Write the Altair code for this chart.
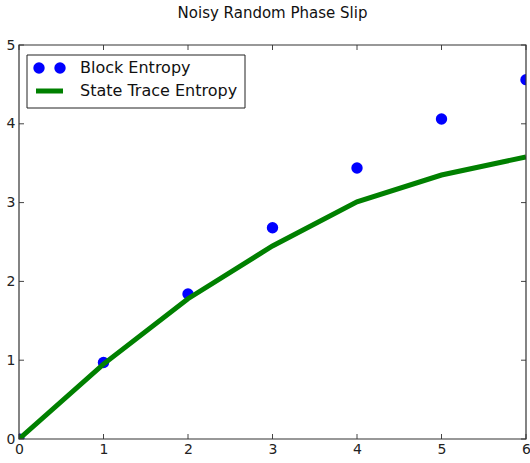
import altair as alt
import pandas as pd

steps = [0, 1, 2, 3, 4, 5, 6]
block_entropy = [0.0, 0.97, 1.84, 2.68, 3.44, 4.06, 4.56]
state_trace_entropy = [0.0, 0.95, 1.78, 2.45, 3.01, 3.35, 3.58]
x_ticks = [0, 1, 2, 3, 4, 5, 6]
y_ticks = [0, 1, 2, 3, 4, 5]

W, H = 507, 394
FONT = "DejaVu Sans"

df = pd.DataFrame({"x": steps, "block": block_entropy, "state": state_trace_entropy})
xt = pd.DataFrame({"v": x_ticks})
yt = pd.DataFrame({"v": y_ticks})

xs = alt.Scale(domain=[0, 6], nice=False, zero=False)
ys = alt.Scale(domain=[0, 5], nice=False, zero=False)

xaxis = alt.Axis(values=x_ticks, tickSize=0, labelPadding=3, grid=False, domain=False,
                 labelFlush=False, labelOverlap=False,
                 labelFont=FONT, labelFontSize=14, labelColor="#222", title=None, format="d")
yaxis = alt.Axis(values=y_ticks, tickSize=0, labelPadding=4, grid=False, domain=False,
                 labelFlush=False, labelOverlap=False,
                 labelFont=FONT, labelFontSize=14, labelColor="#222", title=None, format="d")

base = alt.Chart(df)

pts = base.mark_circle(color="#0000ff", opacity=1, size=130, clip=True).encode(
    x=alt.X("x:Q", scale=xs, axis=xaxis),
    y=alt.Y("block:Q", scale=ys, axis=yaxis),
)
line = base.mark_line(color="#008000", strokeWidth=5, clip=True).encode(
    x=alt.X("x:Q", scale=xs),
    y=alt.Y("state:Q", scale=ys),
)

tick_col = "#444"
xb = alt.Chart(xt).mark_rule(color=tick_col, strokeWidth=1).encode(
    x=alt.X("v:Q", scale=xs), y=alt.value(H), y2=alt.value(H - 5))
xtop = alt.Chart(xt).mark_rule(color=tick_col, strokeWidth=1).encode(
    x=alt.X("v:Q", scale=xs), y=alt.value(0), y2=alt.value(5))
yl = alt.Chart(yt).mark_rule(color=tick_col, strokeWidth=1).encode(
    y=alt.Y("v:Q", scale=ys), x=alt.value(0), x2=alt.value(5))
yr = alt.Chart(yt).mark_rule(color=tick_col, strokeWidth=1).encode(
    y=alt.Y("v:Q", scale=ys), x=alt.value(W), x2=alt.value(W - 5))

one = pd.DataFrame({"a": [0]})
frame = alt.Chart(one).mark_rect(fill=None, stroke="#333", strokeWidth=1.2).encode(
    x=alt.value(0), x2=alt.value(W), y=alt.value(0), y2=alt.value(H))

# legend
leg_box = alt.Chart(one).mark_rect(fill="white", stroke="#222", strokeWidth=1).encode(
    x=alt.value(8), x2=alt.value(226), y=alt.value(10), y2=alt.value(63))
leg_dots = alt.Chart(pd.DataFrame({"px": [20, 41]})).mark_circle(color="#0000ff", opacity=1, size=130).encode(
    x=alt.X("px:Q", scale=None), y=alt.value(23))
leg_line = alt.Chart(one).mark_rule(color="#008000", strokeWidth=5).encode(
    x=alt.value(17), x2=alt.value(44), y=alt.value(46))
leg_text = alt.Chart(pd.DataFrame({"t": ["Block Entropy", "State Trace Entropy"], "py": [23, 46]})).mark_text(
    align="left", baseline="middle", font=FONT, fontSize=16, color="#111").encode(
    x=alt.value(61), y=alt.Y("py:Q", scale=None), text="t:N")

chart = alt.layer(pts, line, xb, xtop, yl, yr, frame, leg_box, leg_dots, leg_line, leg_text).properties(
    width=W, height=H,
    title=alt.TitleParams("Noisy Random Phase Slip", font=FONT, fontSize=15, fontWeight="normal",
                          color="#111", offset=17, anchor="middle"),
    padding={"left": 19, "top": 45, "right": 4, "bottom": 24},
    autosize=alt.AutoSizeParams(type="none"),
).configure_view(stroke=None)

chart.save("out.html", embed_options={"renderer": "svg", "actions": False})
